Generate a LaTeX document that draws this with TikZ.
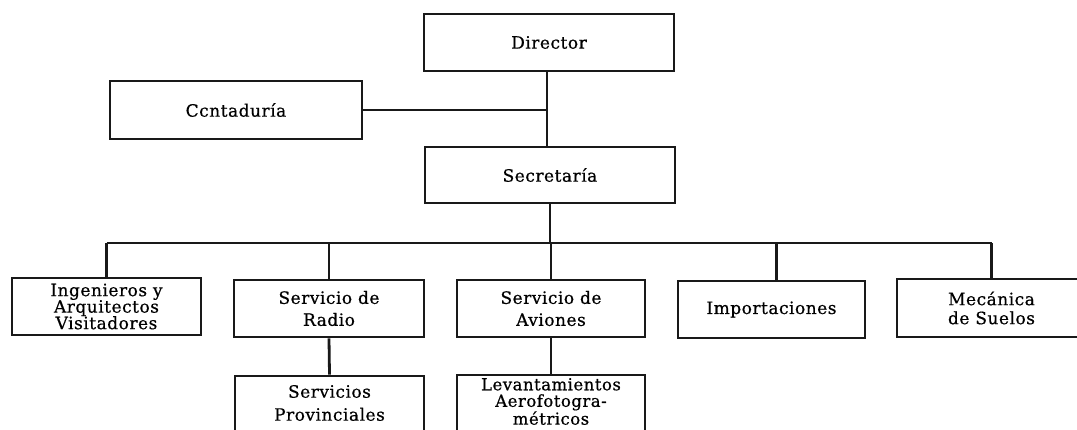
\documentclass[tikz,border=0pt]{standalone}
\usepackage{fontspec}
\newfontfamily\orgfont[LetterSpace=3,FakeBold=0.6]{DejaVu Serif}
\begin{document}
\begin{tikzpicture}[x=1pt,y=-1pt,
  orgbox/.style={draw=black!90, line width=2.8pt, rectangle, inner sep=0pt,
    minimum height=57pt, align=center,
    font=\orgfont\fontsize{17}{22}\selectfont},
  orgtext/.style={align=center, inner sep=0pt},
  link/.style={draw=black!90, line width=2.8pt}]
\useasboundingbox (0,0) rectangle (1077,429);
\fill[white] (0,0) rectangle (1077,429);

\node[orgbox, minimum width=250pt] (dir) at (549,42.5) {Director};
\node[orgbox, minimum width=252pt, minimum height=58pt] (cont) at (236,110) {Ccntaduría};
\node[orgbox, minimum width=250pt, minimum height=56pt] (sec) at (550,175) {Secretaría};

\node[orgbox, minimum width=189pt, font=\orgfont\fontsize{17}{16.5}\selectfont] (ing) at (106.5,306.5) {Ingenieros y\\Arquitectos\\Visitadores};
\node[orgbox, minimum width=190pt] (rad) at (329,308.5) {Servicio de\\Radio};
\node[orgbox, minimum width=188pt] (avi) at (551,308.5) {Servicio de\\Aviones};
\node[orgbox, minimum width=187pt] (imp) at (771.5,309.5) {Importaciones};
\node[orgbox, minimum width=189pt, minimum height=58pt, font=\orgfont\fontsize{17}{19}\selectfont] (mec) at (991.5,308) {Mecánica\\de Suelos};

\node[orgbox, minimum width=189pt, minimum height=66pt] (prov) at (329.5,409) {};
\node[orgtext, font=\orgfont\fontsize{17}{23}\selectfont] (provtxt) at (329.5,403) {Servicios\\Provinciales};
\node[orgbox, minimum width=188pt, minimum height=66pt] (lev) at (551,408) {};
\node[orgtext, font=\orgfont\fontsize{16.5}{16.5}\selectfont] (levtxt) at (551,401.5) {Levantamientos\\Aerofotogra-\\métricos};

% connectors
\coordinate (junc) at ([xshift=-2pt]dir.south |- cont.east);
\draw[link] ([xshift=-2pt]dir.south) -- ([xshift=-2pt]dir.south |- sec.north);
\draw[link] (cont.east) -- (junc);

\coordinate (busL) at (ing.north |- 0,243);
\coordinate (busR) at (mec.north |- 0,243);
\draw[link] (busL) -- (busR);
\draw[link] (sec.south) -- (sec.south |- busL);
\draw[link] (busL) -- (ing.north);
\draw[link] (rad.north |- busL) -- (rad.north);
\draw[link] (avi.north |- busL) -- (avi.north);
\draw[link] ([xshift=5pt]imp.north |- busL) -- ([xshift=5pt]imp.north);
\draw[link] (busR) -- (mec.north);
\draw[link] (rad.south) -- (prov.north);
\draw[link] (avi.south) -- (lev.north);
\end{tikzpicture}
\end{document}
